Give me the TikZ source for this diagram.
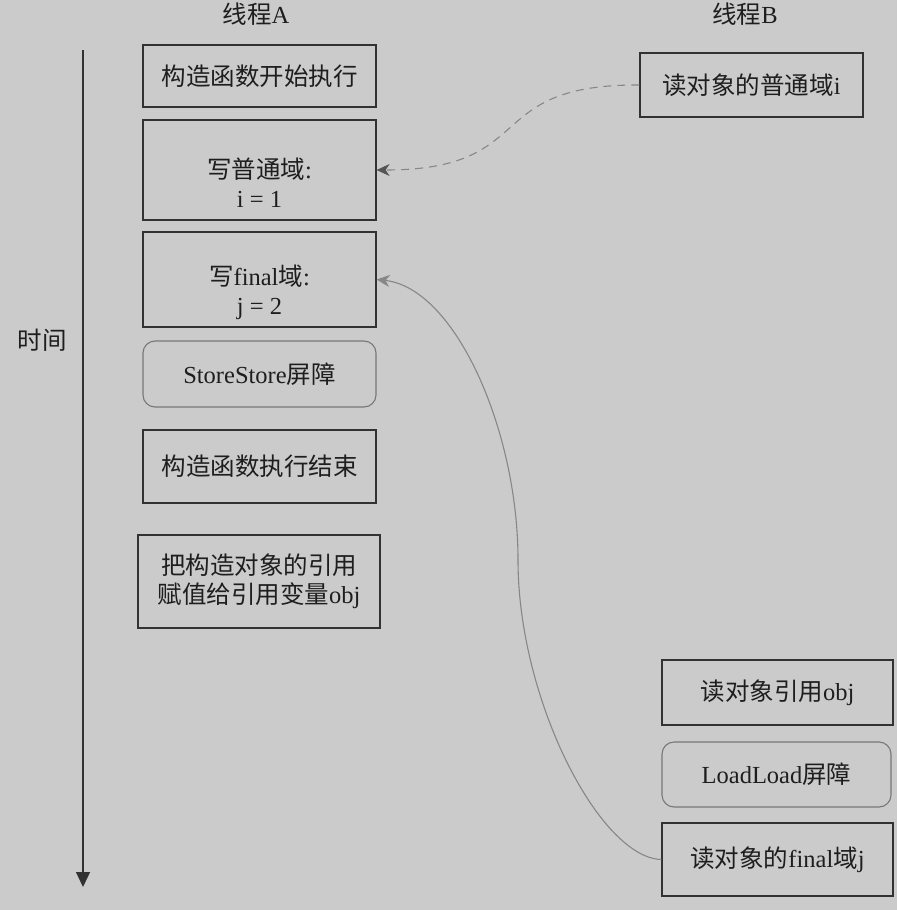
\documentclass[tikz,border=0pt]{standalone}
\usepackage{fontspec}
\setmainfont{Liberation Serif}
\newfontfamily\cjkfont{Noto Sans CJK SC}
\newcommand{\zh}[1]{{\cjkfont #1}}
\usetikzlibrary{arrows.meta}
\definecolor{bgcol}{RGB}{203,203,203}
\definecolor{ink}{RGB}{30,30,30}
\definecolor{edgecol}{RGB}{50,50,50}
\definecolor{softedge}{RGB}{120,120,120}
\definecolor{linkcol}{RGB}{135,135,135}
\definecolor{tipcol}{RGB}{85,85,85}
\tikzset{
  base/.style={font=\fontsize{24.5}{29}\selectfont, text=ink, align=center, inner sep=0pt},
  stepbox/.style={base, draw=edgecol, line width=1.2pt},
  barrier/.style={base, draw=softedge, line width=1.1pt, rounded corners=12pt},
  title/.style={base},
  lowtext/.style={label={[base, yshift=-13pt]center:{#1}}},
  link/.style={draw=linkcol, line width=1.1pt},
}
\begin{document}
\begin{tikzpicture}[x=1pt, y=-1pt]
  % canvas
  \fill[bgcol] (0,0) rectangle (897,910);
  \useasboundingbox (0,0) rectangle (897,910);

  % column headings
  \node[title] (ta) at (256,14) {\zh{线程}A};
  \node[title] (tb) at (745,14) {\zh{线程}B};

  % time axis
  \coordinate (tstart) at (83,50);
  \coordinate (tend) at (83,887);
  \draw[draw=edgecol, line width=1.3pt, -{Triangle[length=15pt,width=14pt]}] (tstart) -- (tend);
  \node[title] (time) at (42,340) {\zh{时间}};

  % thread A
  \node[stepbox, minimum width=233pt, minimum height=62pt] (a1) at (259.5,76) {\zh{构造函数开始执行}};
  \node[stepbox, minimum width=233pt, minimum height=100pt,
        lowtext={\zh{写普通域}:\\i = 1}] (a2) at (259.5,170) {};
  \node[stepbox, minimum width=233pt, minimum height=95pt,
        lowtext={\zh{写}final\zh{域}:\\j = 2}] (a3) at (259.5,279.5) {};
  \node[barrier, minimum width=233pt, minimum height=66pt] (a4) at (259.5,374) {StoreStore\zh{屏障}};
  \node[stepbox, minimum width=233pt, minimum height=73pt] (a5) at (259.5,466.5) {\zh{构造函数执行结束}};
  \node[stepbox, minimum width=242pt, minimum height=93pt] (a6) at (259,581.5) {\zh{把构造对象的引用}\\\zh{赋值给引用变量}obj};

  % thread B
  \node[stepbox, minimum width=223pt, minimum height=64pt] (b1) at (751.5,85) {\zh{读对象的普通域}i};
  \node[stepbox, minimum width=231pt, minimum height=65pt] (b2) at (777.5,692.5) {\zh{读对象引用}obj};
  \node[barrier, minimum width=229pt, minimum height=65pt] (b3) at (776.5,774.5) {LoadLoad\zh{屏障}};
  \node[stepbox, minimum width=231pt, minimum height=73pt] (b4) at (777.5,859.5) {\zh{读对象的}final\zh{域}j};

  % reads crossing the threads
  \draw[link, dashed, dash pattern=on 8pt off 6pt, -{Stealth[length=13pt,width=12pt,inset=4pt,color=tipcol]}]
    (b1.west) .. controls (480,84) and (540,170) .. (a2.east);
  \draw[link, -{Stealth[length=13pt,width=12pt,inset=4pt]}]
    (b4.west) .. controls (600,858) and (518,700) .. (518,560)
              .. controls (518,430) and (455,288) .. (a3.east);
\end{tikzpicture}
\end{document}
